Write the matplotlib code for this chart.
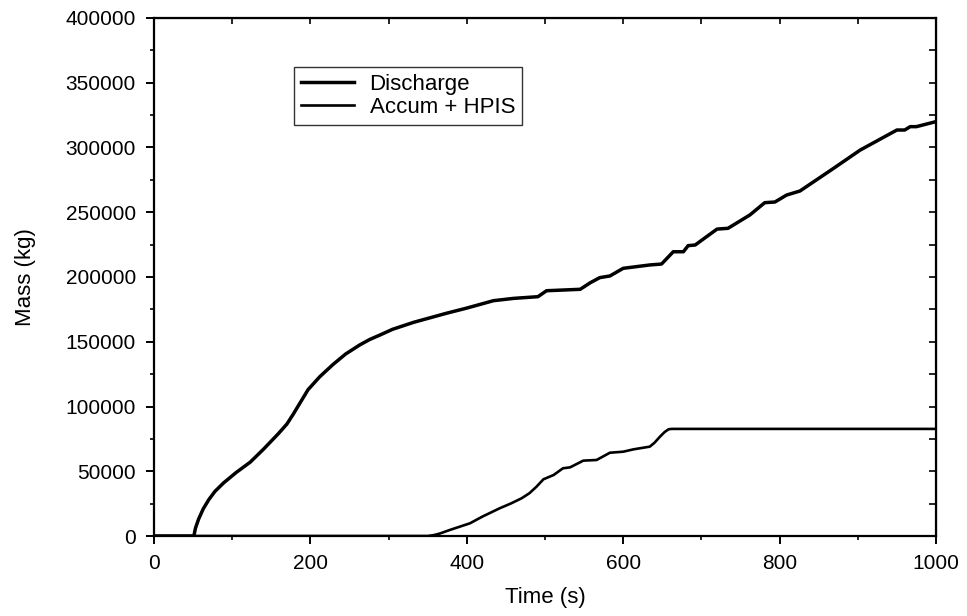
import numpy as np
import matplotlib
matplotlib.use("Agg")
import matplotlib.pyplot as plt
from matplotlib.ticker import MultipleLocator

plt.rcParams['font.family'] = ['Liberation Sans', 'DejaVu Sans']

# values
discharge_t = [0, 51, 53, 57, 63, 70, 78, 89, 105, 123, 140, 159, 170, 178, 187,
               197, 212, 229, 245, 263, 276, 289, 305, 332, 350, 374, 400,
               434, 460, 491, 502, 545, 558, 570, 583, 600, 634, 649, 664, 677,
               683, 692, 720, 734, 762, 781, 794, 809, 826, 869, 903, 933, 950,
               960, 967, 975, 1000]
discharge_m = [0, 0, 6000, 13000, 21000, 28000, 34500, 41000, 49000, 57000,
               67000, 79000, 86500, 94000, 103000, 113000, 123000, 132500,
               140500, 147500, 151800, 155200, 159600, 165000, 168000, 172000,
               176000, 181700, 183500, 184800, 189400, 190500, 195600, 199500,
               200800, 206700, 209300, 210000, 219500, 219500, 224200, 224700,
               237000, 237600, 247900, 257400, 257900, 263300, 266400, 283900,
               298000, 307900, 313500, 313500, 316100, 316100, 320000]

accum_t = [0, 350, 358, 366, 378, 390, 404, 420, 442, 456, 470, 480, 489, 498,
           511, 523, 532, 549, 566, 583, 600, 613, 634, 640, 647, 653, 658, 662,
           1000]
accum_m = [0, 0, 700, 2000, 4600, 7000, 9800, 15000, 21400, 25000, 29100,
           33000, 38000, 43800, 47100, 52300, 53000, 58200, 58700, 64300, 65100,
           66900, 69000, 72000, 76700, 80300, 82400, 82700, 82700]

fig = plt.figure(figsize=(9.67, 6.16), dpi=100)
ax = fig.add_axes([154/967, (616-536)/616, (936-154)/967, (536-18)/616])

ax.plot(discharge_t, discharge_m, color='black', lw=2.5, label='Discharge')
ax.plot(accum_t, accum_m, color='black', lw=1.9, label='Accum + HPIS')

ax.set_xlim(0, 1000)
ax.set_ylim(0, 400000)
ax.xaxis.set_major_locator(MultipleLocator(200))
ax.xaxis.set_minor_locator(MultipleLocator(100))
ax.yaxis.set_major_locator(MultipleLocator(50000))
ax.yaxis.set_minor_locator(MultipleLocator(25000))

for s in ax.spines.values():
    s.set_linewidth(1.6)

ax.tick_params(axis='both', which='major', direction='out', length=6, width=1.4,
               labelsize=15, pad=7, colors='black')
ax.tick_params(axis='both', which='minor', direction='out', length=3, width=1.2)

# top and right ticks point inward
tx = ax.secondary_xaxis('top')
tx.xaxis.set_major_locator(MultipleLocator(100))
tx.tick_params(direction='in', length=4, width=1.2, labeltop=False)
ty = ax.secondary_yaxis('right')
ty.yaxis.set_major_locator(MultipleLocator(25000))
ty.tick_params(direction='in', length=5, width=1.2, labelright=False)

ax.set_xlabel('Time (s)', fontsize=16, va='center')
ax.set_ylabel('Mass (kg)', fontsize=16, va='center')
ax.xaxis.set_label_coords(0.5, -(598-536)/518)
ax.yaxis.set_label_coords(-(154-25)/782, 0.5)

leg = ax.legend(loc='upper left', bbox_to_anchor=(0.179, 0.905), fontsize=16,
                frameon=True, fancybox=False, edgecolor='black',
                handlelength=2.4, handletextpad=0.7, borderpad=0.3,
                labelspacing=0.1, borderaxespad=0)
leg.get_frame().set_linewidth(1.0)

fig.savefig('out.png', dpi=100)
